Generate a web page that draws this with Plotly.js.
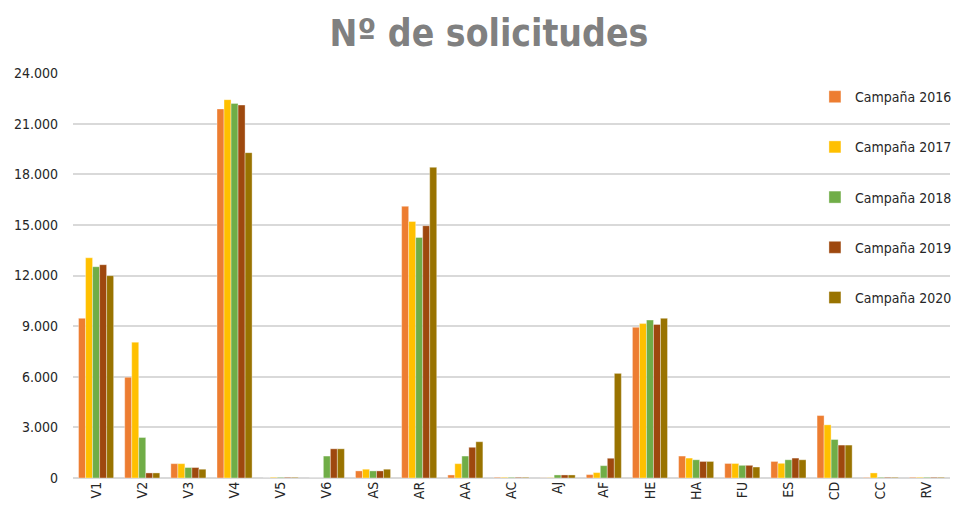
<!DOCTYPE html>
<html>
<head>
<meta charset="utf-8">
<script src="https://cdn.plot.ly/plotly-3.0.1.min.js"></script>
<style>html,body{margin:0;padding:0;background:#fff;}#chart{width:955px;height:505px;}</style>
</head>
<body>
<div id="chart"></div>
<script>
const categories = ["V1","V2","V3","V4","V5","V6","AS","AR","AA","AC","AJ","AF","HE","HA","FU","ES","CD","CC","RV"];
const seriesNames = ["Campaña 2016","Campaña 2017","Campaña 2018","Campaña 2019","Campaña 2020"];
const values2016 = [9460, 5970, 850, 21870, 0, 0, 420, 16100, 180, 40, 10, 200, 8930, 1300, 860, 980, 3700, 30, 40];
const values2017 = [13050, 8050, 850, 22420, 40, 0, 520, 15200, 850, 40, 20, 320, 9150, 1180, 860, 870, 3150, 300, 40];
const values2018 = [12520, 2400, 620, 22200, 40, 1300, 420, 14250, 1300, 40, 180, 730, 9360, 1080, 750, 1080, 2280, 40, 40];
const values2019 = [12640, 300, 620, 22100, 40, 1730, 420, 14950, 1820, 40, 180, 1170, 9100, 980, 750, 1180, 1950, 40, 40];
const values2020 = [11990, 300, 520, 19280, 40, 1730, 520, 18410, 2150, 40, 180, 6200, 9460, 980, 650, 1080, 1950, 40, 40];
const colors = ["#ED7D31","#FFC000","#70AD47","#9E480E","#997300"];
const allValues = [values2016, values2017, values2018, values2019, values2020];

const FONT = "DejaVu Sans Condensed, Liberation Sans Narrow, Arial Narrow, sans-serif";

const traces = allValues.map((v, i) => ({
  type: "bar",
  name: seriesNames[i],
  x: categories,
  y: v,
  legendgroup: "g" + i,
  marker: {color: colors[i], line: {color: "rgba(255,255,255,0.6)", width: 0.6}},
  hoverinfo: "x+y+name"
}));

const layout = {
  width: 955,
  height: 505,
  margin: {l: 73, r: 5, t: 73, b: 27, autoexpand: false},
  paper_bgcolor: "#ffffff",
  plot_bgcolor: "#ffffff",
  separators: ",.",
  barmode: "group",
  bargap: 0.24,
  bargroupgap: 0,
  title: {
    text: "<b>Nº de solicitudes</b>",
    font: {family: FONT, size: 37, color: "#808080"},
    xref: "container", x: 0.512, xanchor: "center",
    yref: "container", y: 0.935, yanchor: "middle"
  },
  xaxis: {
    type: "category",
    range: [-0.5, 18.5],
    tickangle: -90,
    showgrid: false,
    showline: false,
    ticks: "",
    automargin: false,
    tickfont: {family: FONT, size: 14, color: "#262626"}
  },
  yaxis: {
    range: [0, 24000],
    tickvals: [0,3000,6000,9000,12000,15000,18000,21000,24000],
    tickformat: ",d",
    showgrid: true,
    gridcolor: "#d9d9d9",
    gridwidth: 1.5,
    zeroline: true,
    zerolinecolor: "#d9d9d9",
    zerolinewidth: 2,
    showline: false,
    ticks: "",
    ticklabelstandoff: 14,
    automargin: false,
    tickfont: {family: FONT, size: 14, color: "#262626"}
  },
  legend: {
    x: 0.846, xanchor: "left",
    y: 0.98, yanchor: "top",
    bgcolor: "rgba(0,0,0,0)",
    traceorder: "grouped",
    tracegroupgap: 29,
    font: {family: FONT, size: 14, color: "#262626"}
  },
  showlegend: true
};

Plotly.newPlot("chart", traces, layout, {displayModeBar: false, staticPlot: false});
</script>
</body>
</html>
